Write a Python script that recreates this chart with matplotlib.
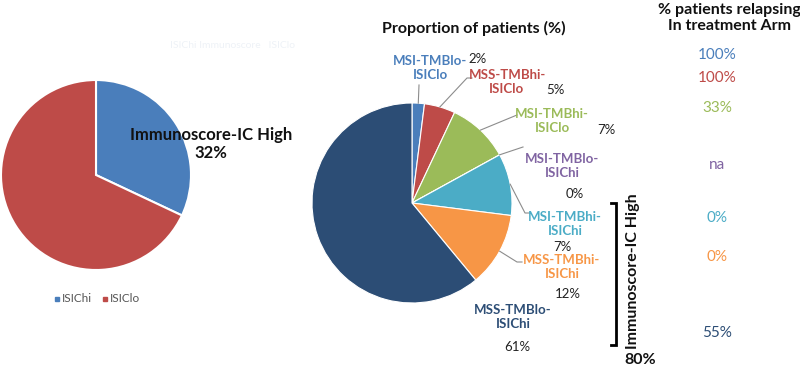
import matplotlib
matplotlib.use("Agg")
import matplotlib.pyplot as plt
import numpy as np

plt.rcParams["font.family"] = ["Lato", "DejaVu Sans"]

# left pie: Immunoscore-IC split
isic_labels = ["ISIChi", "ISIClo"]
isic_shares = [32, 68]
isic_colors = ["#4a7ebb", "#be4b48"]

# right pie: subgroup proportions (slice sizes as drawn, labels as printed)
groups = ["MSI-TMBlo-\nISIClo", "MSS-TMBhi-\nISIClo", "MSI-TMBhi-\nISIClo",
          "MSI-TMBlo-\nISIChi", "MSI-TMBhi-\nISIChi", "MSS-TMBhi-\nISIChi",
          "MSS-TMBlo-\nISIChi"]
group_shares = [2, 5, 10, 0, 10, 12, 61]
group_pct = ["2%", "5%", "7%", "0%", "7%", "12%", "61%"]
group_colors = ["#4a7ebb", "#be4b48", "#9bbb59", "#8064a2", "#4bacc6", "#f79646", "#2c4d75"]
relapse = ["100%", "100%", "33%", "na", "0%", "0%", "55%"]

W, H = 800, 373
fig = plt.figure(figsize=(8.0, 3.73), dpi=100)


def pie_axes(cx, cy, r):
    return fig.add_axes([(cx - r) / W, (H - cy - r) / H, 2 * r / W, 2 * r / H])


def fix_limits(ax):
    ax.set_xlim(-1, 1)
    ax.set_ylim(-1, 1)
    ax.axis("off")


# ---- left pie ----
axl = pie_axes(96, 175, 95)
axl.pie(isic_shares, colors=isic_colors, startangle=90, counterclock=False,
        wedgeprops=dict(edgecolor="white", linewidth=1.5))
fix_limits(axl)

# ---- right pie ----
cx, cy, r = 412, 203, 100
axr = pie_axes(cx, cy, r)
wedges, _ = axr.pie(group_shares, colors=group_colors, startangle=90, counterclock=False,
                    wedgeprops=dict(edgecolor="white", linewidth=0.8))
fix_limits(axr)

# overlay in pixel coordinates for all the text, on top of the pies
ov = fig.add_axes([0, 0, 1, 1])
ov.set_xlim(0, W)
ov.set_ylim(H, 0)
ov.axis("off")
ov.set_zorder(5)

ov.text(211, 144, "Immunoscore-IC High\n32%", ha="center", va="center",
        fontsize=12, fontweight="bold", color="#111111", linespacing=1.15)
ov.text(233, 45, "ISIChi Immunoscore   ISIClo", ha="center", va="center",
        fontsize=7.5, color="#eef2f7")
for x, lab, col in zip([57, 105], isic_labels, isic_colors):
    ov.plot(x, 299, marker="s", markersize=3.5, color=col, linestyle="none")
    ov.text(x + 5, 299, lab, ha="left", va="center", fontsize=8.5, color="#555555")

ov.text(474, 28, "Proportion of patients (%)", ha="center", va="center",
        fontsize=11.5, fontweight="bold", color="#111111")

# label anchors: (name x, name y, pct x, pct y, leader end points)
label_pos = [
    (430, 68, 478, 59, [(419, 85)]),
    (507, 82, 555, 90, [(467, 78), (472, 78)]),
    (552, 121, 606, 130, [(517, 115)]),
    (562, 166, 575, 194, [(523, 147)]),
    (565, 224, 562, 247, [(525, 213), (530, 213)]),
    (562, 267, 568, 294, [(517, 262), (522, 262)]),
    (513, 317, 517, 347, None),
]
for i, (name, pct, col) in enumerate(zip(groups, group_pct, group_colors)):
    nx, ny, px, py, leader = label_pos[i]
    ov.text(nx, ny, name, ha="center", va="center", fontsize=9.5, fontweight="bold",
            color=col, linespacing=1.2)
    ov.text(px, py, pct, ha="center", va="center", fontsize=9.5, color="#222222")
    if leader:
        w = wedges[i]
        mid = np.deg2rad((w.theta1 + w.theta2) / 2)
        sx = cx + r * np.cos(mid)
        sy = cy - r * np.sin(mid)
        xs = [sx] + [p[0] for p in leader]
        ys = [sy] + [p[1] for p in leader]
        ov.plot(xs, ys, color="#8c8c8c", linewidth=0.8)

# bracket for Immunoscore-IC High groups
ov.plot([611, 616, 616, 611], [203, 203, 345, 345], color="black", linewidth=2,
        solid_joinstyle="miter")
ov.text(633, 271, "Immunoscore-IC High", rotation=90, ha="center", va="center",
        fontsize=11.5, fontweight="bold", color="#111111")
ov.text(640, 360, "80%", ha="center", va="center", fontsize=11.5, fontweight="bold",
        color="#111111")

# relapse column
ov.text(729, 18, "% patients relapsing\nIn treatment Arm", ha="center", va="center",
        fontsize=11.5, fontweight="bold", color="#111111", linespacing=1.2)
relapse_y = [55, 78, 108, 165, 218, 257, 333]
for val, y, col in zip(relapse, relapse_y, group_colors):
    ov.text(717, y, val, ha="center", va="center", fontsize=11, color=col)

fig.savefig("out.png", dpi=100)
